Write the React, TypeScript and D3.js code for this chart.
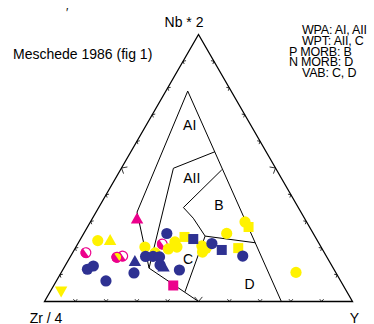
import React from 'react';
import * as d3 from 'd3';

// ternary values as [Nb*2, Zr/4, Y] in percent
type Tern = [number, number, number];

const apexLabels = ['Nb * 2', 'Zr / 4', 'Y'];
const legendLines = ['WPA: AI, AII', 'WPT: AII, C', 'P MORB: B', 'N MORB: D', 'VAB: C, D'];
const title = 'Meschede 1986 (fig 1)';

// field boundaries (Meschede 1986)
const fieldLines: Tern[][] = [
  [[78.8, 14.1, 7.1], [33.5, 53.2, 13.3], [12.5, 59.8, 27.7]],
  [[78.8, 14.1, 7.1], [0, 23.1, 76.9]],
  [[56.1, 16.6, 27.3], [49.9, 33.2, 16.9], [12.5, 59.8, 27.7]],
  [[49.3, 17.8, 32.9], [35.2, 37.3, 27.5], [31.2, 36.1, 32.7], [24.5, 35.6, 39.9], [3.6, 52.6, 43.8]],
  [[24.5, 35.6, 39.9], [22.0, 20.6, 57.4]],
  [[12.5, 59.8, 27.7], [0, 50, 50]],
];

const fieldLabels = ['AI', 'AII', 'B', 'C', 'D'];
const fieldLabelPos: Tern[] = [
  [66.3, 19.7, 14.0],
  [46.3, 29.1, 24.7],
  [36.3, 25.2, 38.4],
  [16.0, 45.4, 38.6],
  [6.4, 30.2, 63.4],
];

const tickSteps = [10, 20, 30, 40, 50, 60, 70, 80, 90];

// samples
const halfWhite: Tern[] = [[18.3, 77.4, 4.3], [17.0, 66.1, 16.9], [21.5, 51.0, 27.5]];
const halfYellow: Tern[] = [[16.6, 68.3, 15.2]];
const yellowCircles: Tern[] = [
  [22.8, 71.3, 5.9], [20.4, 57.2, 22.4], [18.2, 55.0, 26.8], [19.7, 50.0, 30.4],
  [22.3, 46.5, 31.2], [20.4, 46.8, 32.8], [20.8, 38.5, 40.7], [19.9, 37.6, 42.5],
  [18.5, 39.4, 42.0], [25.5, 28.1, 46.4], [29.8, 20.0, 50.2], [10.9, 12.9, 76.2],
];
const yellowSquares: Tern[] = [[24.2, 42.5, 33.4], [27.9, 19.8, 52.3], [20.0, 27.1, 52.9]];
const yellowTriangles: Tern[] = [[22.8, 67.3, 9.9]];
const yellowDownTriangles: Tern[] = [[4.0, 92.6, 3.4]];
const navyCircles: Tern[] = [
  [12.1, 80.1, 7.9], [13.3, 77.5, 9.2], [7.7, 76.2, 16.1], [10.7, 65.6, 23.7],
  [16.9, 58.8, 24.4], [16.9, 56.3, 26.8], [16.7, 54.3, 29.0], [13.7, 55.7, 30.7],
  [25.5, 47.6, 27.0], [11.8, 50.3, 37.9], [21.7, 34.8, 43.5], [17.0, 27.1, 55.8],
];
const navySquares: Tern[] = [[23.4, 40.0, 36.6], [19.3, 32.8, 47.9]];
const navyTriangles: Tern[] = [[14.9, 63.2, 21.9], [12.9, 54.9, 32.2]];
const magentaTriangles: Tern[] = [[30.9, 54.5, 14.6]];
const magentaSquares: Tern[] = [[6.0, 55.2, 38.8]];

const NAVY = '#2e3192';
const YELLOW = '#fff200';
const MAGENTA = '#ec008c';
const FONT = '"Liberation Sans", Arial, Helvetica, sans-serif';

const W = 374;
const H = 324;

const xScale = d3.scaleLinear().domain([0, 100]).range([44.5, 352.5]);
const yScale = d3.scaleLinear().domain([0, 100]).range([301.5, 34.5]);

const project = ([nb, zr, y]: Tern): [number, number] => {
  const s = nb + zr + y;
  const n = (nb / s) * 100;
  const yy = (y / s) * 100;
  return [xScale(yy + n / 2), yScale(n)];
};

const line = d3.line<Tern>().x(d => project(d)[0]).y(d => project(d)[1]);
const halfArc = d3.arc<any>().innerRadius(0).outerRadius(5.4);

const App: React.FC = () => {
  const A = project([100, 0, 0]);
  const L = project([0, 100, 0]);
  const R = project([0, 0, 100]);

  // ticks: small chevrons pointing into the triangle
  const sides = [
    { from: L, to: R },
    { from: L, to: A },
    { from: R, to: A },
  ];
  const [cx, cy] = project([33.3, 33.3, 33.4]);
  const ticks: string[] = [];
  sides.forEach(({ from, to }) => {
    const dx = to[0] - from[0];
    const dy = to[1] - from[1];
    const len = Math.hypot(dx, dy);
    const ux = dx / len, uy = dy / len;
    let nx = -uy, ny = ux;
    const mx = (from[0] + to[0]) / 2, my = (from[1] + to[1]) / 2;
    if ((cx - mx) * nx + (cy - my) * ny < 0) { nx = -nx; ny = -ny; }
    tickSteps.forEach(t => {
      const px = from[0] + dx * t / 100;
      const py = from[1] + dy * t / 100;
      const size = t === 50 ? 6 : 3;
      const a = (40 * Math.PI) / 180;
      const x1 = px + size * (nx * Math.cos(a) + ux * Math.sin(a));
      const y1 = py + size * (ny * Math.cos(a) + uy * Math.sin(a));
      const x2 = px + size * (nx * Math.cos(a) - ux * Math.sin(a));
      const y2 = py + size * (ny * Math.cos(a) - uy * Math.sin(a));
      ticks.push(`M${x1},${y1}L${px},${py}L${x2},${y2}`);
    });
  });

  const circles = (data: Tern[], fill: string, key: string) =>
    data.map((d, i) => {
      const [x, y] = project(d);
      return <circle key={key + i} cx={x} cy={y} r={5.6} fill={fill} />;
    });
  const squares = (data: Tern[], fill: string, key: string) =>
    data.map((d, i) => {
      const [x, y] = project(d);
      return <rect key={key + i} x={x - 5} y={y - 5} width={10} height={10} fill={fill} />;
    });
  const triangles = (data: Tern[], fill: string, key: string, down = false) =>
    data.map((d, i) => {
      const [x, y] = project(d);
      const s = down ? -1 : 1;
      const pts = `${x},${y - 6.6 * s} ${x - 6.2},${y + 4.4 * s} ${x + 6.2},${y + 4.4 * s}`;
      return <polygon key={key + i} points={pts} fill={fill} />;
    });
  const halves = (data: Tern[], base: string, key: string) =>
    data.map((d, i) => {
      const [x, y] = project(d);
      return (
        <g key={key + i} transform={`translate(${x},${y}) rotate(-35)`}>
          <circle r={4.9} fill={base} stroke={MAGENTA} strokeWidth={1.2} />
          <path d={halfArc({ startAngle: Math.PI, endAngle: 2 * Math.PI }) || undefined} fill={MAGENTA} />
        </g>
      );
    });

  return (
    <svg width={W} height={H} style={{ position: 'absolute', left: 0, top: 0, background: '#fff' }}
      fontFamily={FONT}>
      <text x={66} y={17} fontSize={12}>′</text>
      <text x={13} y={59} fontSize={14}>{title}</text>
      {legendLines.map((t, i) => (
        <text key={t} x={i === 2 || i === 3 ? 289 : 302} y={34 + i * 10.8} fontSize={12.5}
          letterSpacing={-0.2}>{t}</text>
      ))}

      <path d={`M${L[0]},${L[1]}L${R[0]},${R[1]}L${A[0]},${A[1]}Z`} fill="none" stroke="#000" strokeWidth={1.3} />
      <path d={ticks.join('')} fill="none" stroke="#000" strokeWidth={0.8} />

      {fieldLines.map((d, i) => (
        <path key={i} d={line(d) || undefined} fill="none" stroke="#000" strokeWidth={1} />
      ))}
      {fieldLabels.map((t, i) => {
        const [x, y] = project(fieldLabelPos[i]);
        return (
          <text key={t} x={x} y={y} dy="0.36em" textAnchor="middle" fontSize={14}>{t}</text>
        );
      })}

      {halves(halfWhite, '#fff', 'hw')}
      {halves(halfYellow, YELLOW, 'hy')}
      {circles(yellowCircles, YELLOW, 'yc')}
      {squares(yellowSquares, YELLOW, 'ys')}
      {triangles(yellowTriangles, YELLOW, 'yt')}
      {triangles(yellowDownTriangles, YELLOW, 'yd', true)}
      {circles(navyCircles, NAVY, 'nc')}
      {squares(navySquares, NAVY, 'ns')}
      {triangles(navyTriangles, NAVY, 'nt')}
      {triangles(magentaTriangles, MAGENTA, 'mt')}
      {squares(magentaSquares, MAGENTA, 'ms')}

      <text x={A[0] + 5} y={A[1] - 7.5} textAnchor="end" fontSize={14}>{apexLabels[0]}</text>
      <text x={L[0] + 1.5} y={H - 1.5} textAnchor="middle" fontSize={14}>{apexLabels[1]}</text>
      <text x={R[0] + 2} y={H - 1.5} textAnchor="middle" fontSize={14}>{apexLabels[2]}</text>
    </svg>
  );
};

export default App;
